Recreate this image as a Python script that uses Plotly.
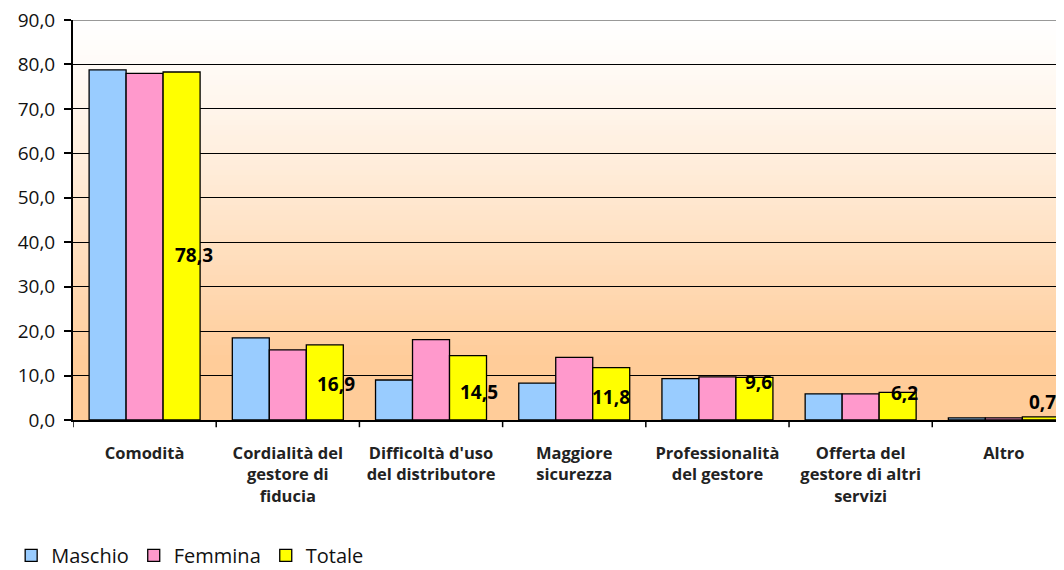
import plotly.graph_objects as go

categories = ["Comodità", "Cordialità del<br>gestore di<br>fiducia", "Difficoltà d'uso<br>del distributore",
              "Maggiore<br>sicurezza", "Professionalità<br>del gestore", "Offerta del<br>gestore di altri<br>servizi", "Altro"]
maschio = [78.8, 18.5, 9.0, 8.3, 9.3, 5.9, 0.5]
femmina = [78.0, 15.8, 18.1, 14.1, 9.7, 5.9, 0.5]
totale = [78.3, 16.9, 14.5, 11.8, 9.6, 6.2, 0.7]
yticks = [0, 10, 20, 30, 40, 50, 60, 70, 80, 90]

# label placement tweaks (pixels) relative to the centre of the Totale bar
label_dx = [12, 11, 11, 0, 4, 7, 2]
label_dy = [-9, -2, -4, -3, 17, 13, 16]

x = list(range(len(categories)))
fig = go.Figure()
line = dict(color="black", width=1.3)
fig.add_bar(x=x, y=maschio, name="Maschio", marker=dict(color="#99CCFF", line=line))
fig.add_bar(x=x, y=femmina, name="Femmina", marker=dict(color="#FF99CC", line=line))
fig.add_bar(x=x, y=totale, name="Totale", marker=dict(color="#FFFF00", line=line))

# gradient background (white -> peach)
shapes = []
n = 80
for i in range(n):
    y0 = i / n
    y1 = (i + 1) / n
    f = 1 - (i + 0.5) / n  # 0 at top, 1 at bottom
    f = min(1.0, f / 0.85) ** 1.2
    g = round(255 - 51 * f)
    b = round(255 - 102 * f)
    shapes.append(dict(type="rect", xref="paper", yref="paper", x0=0, x1=1, y0=y0, y1=y1 + 0.001,
                       fillcolor=f"rgb(255,{g},{b})", line=dict(width=0), layer="below"))
fig.update_layout(shapes=shapes)

# data labels on Totale
for xi, v, dx, dy in zip(x, totale, label_dx, label_dy):
    fig.add_annotation(x=xi, y=v / 2, xref="x", yref="y", text=f"{v:.1f}".replace(".", ","),
                       showarrow=False, xshift=37 + dx, yshift=dy, yanchor="middle",
                       font=dict(family="Open Sans", size=19, color="black", weight="bold"))

fig.update_layout(
    width=1056, height=562,
    margin=dict(l=65, r=0, t=12, b=150, autoexpand=False),
    paper_bgcolor="white", plot_bgcolor="rgba(0,0,0,0)",
    barmode="group", bargap=0.225, bargroupgap=0,
    separators=",.",
    font=dict(family="Open Sans", color="black"),
    showlegend=True,
    legend=dict(orientation="h", xref="container", yref="container", x=0.003, y=0.026,
                xanchor="left", yanchor="middle",
                font=dict(size=20, family="Open Sans", color="#111"), traceorder="normal",
                itemwidth=30),
    yaxis=dict(range=[0, 90], tickvals=yticks, tickformat=".1f", showgrid=True, gridcolor="black",
               gridwidth=1.3, showline=True, linecolor="black", linewidth=2, ticks="outside",
               ticklen=7, tickwidth=1.5, tickcolor="black", tickfont=dict(size=19, color="#111"),
               ticklabelstandoff=5, ticklabeloverflow="allow",
               zeroline=False, automargin=False),
    xaxis=dict(range=[-0.5, 6.42], tickvals=x, ticktext=categories, showline=True, linecolor="black",
               linewidth=2, ticks="", showgrid=False, ticklabelstandoff=17, automargin=False,
               tickfont=dict(size=16.5, color="#222", weight="bold")),
)
# top border line at 90
fig.add_shape(type="line", xref="paper", yref="y", x0=0, x1=1, y0=90, y1=90,
              line=dict(color="#999999", width=2))
# category separator ticks on x axis
for xi in range(len(categories)):
    fig.add_shape(type="line", xref="x", yref="paper", x0=xi - 0.5, x1=xi - 0.5, y0=0, y1=-0.018,
                  line=dict(color="black", width=1.5))

fig.write_html("out.html")
